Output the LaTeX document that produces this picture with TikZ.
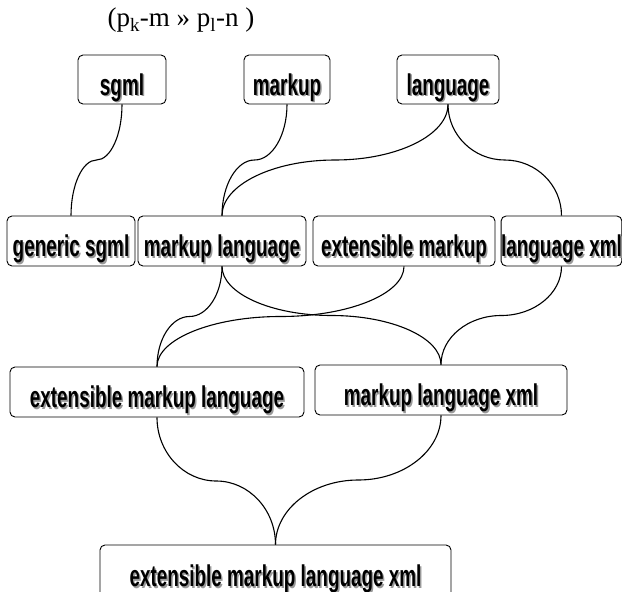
\documentclass[tikz,border=0pt]{standalone}
\usepackage{fontspec}
\setmainfont{Liberation Serif}
\newfontfamily\lblfont{Liberation Sans}[FakeStretch=0.63]
\usetikzlibrary{calc}
\newcommand\shd[1]{\rlap{\kern1.5pt\raisebox{-1.5pt}{\textcolor{black!40}{#1}}}#1}
\newcommand\conn[2]{\draw[conn] let \p1=(#1.south), \p2=(#2.north) in
  (\p1) .. controls ({\x1},{0.725*\y1+0.275*\y2}) and ({0.775*\x1+0.225*\x2},{0.5*\y1+0.5*\y2})
  .. ({0.5*\x1+0.5*\x2},{0.5*\y1+0.5*\y2})
  .. controls ({0.225*\x1+0.775*\x2},{0.5*\y1+0.5*\y2}) and ({\x2},{0.275*\y1+0.725*\y2}) .. (\p2);}
\tikzset{
  box/.style={draw=black, line width=0.9pt, rounded corners=5pt, inner sep=0pt,
    font=\lblfont\bfseries\fontsize{30}{32}\selectfont,
    text height=32pt, text depth=1pt, minimum height=49pt},
  conn/.style={line width=1.1pt, black}
}
\begin{document}
\begin{tikzpicture}[x=1pt,y=-1pt]
\useasboundingbox (0,0) rectangle (622,592);
\node[font=\fontsize{27}{29}\selectfont] (title) at (181,20) {(p\textsubscript{k}-m » p\textsubscript{l}-n )};
% row 1
\node[box, minimum width=88pt]  (sgml) at (122,79.5) {\shd{sgml}};
\node[box, minimum width=86pt]  (markup) at (287,79.5) {\shd{markup}};
\node[box, minimum width=102pt] (language) at (448,79.5) {\shd{language}};
% row 2
\node[box, minimum width=128pt, minimum height=50pt] (gs) at (71,241) {\shd{generic sgml}};
\node[box, minimum width=168pt, minimum height=50pt] (ml) at (222,241) {\shd{markup language}};
\node[box, minimum width=182pt, minimum height=50pt] (em) at (404,241) {\shd{extensible markup}};
\node[box, minimum width=117pt, minimum height=50pt] (lx) at (561.5,241) {\shd{language xml}};
% row 3
\node[box, minimum width=294pt, minimum height=50pt] (eml) at (157,392) {\shd{extensible markup language}};
\node[box, minimum width=252pt, minimum height=50pt] (mlx) at (441,390) {\shd{markup language xml}};
% row 4
\node[box, minimum width=351pt, minimum height=52pt] (emlx) at (275.5,571) {\shd{extensible markup language xml}};
% connectors
\conn{sgml}{gs}
\conn{markup}{ml}
\conn{language}{ml}
\conn{language}{lx}
\conn{ml}{eml}
\conn{ml}{mlx}
\conn{em}{eml}
\conn{lx}{mlx}
\conn{eml}{emlx}
\conn{mlx}{emlx}
\end{tikzpicture}
\end{document}
